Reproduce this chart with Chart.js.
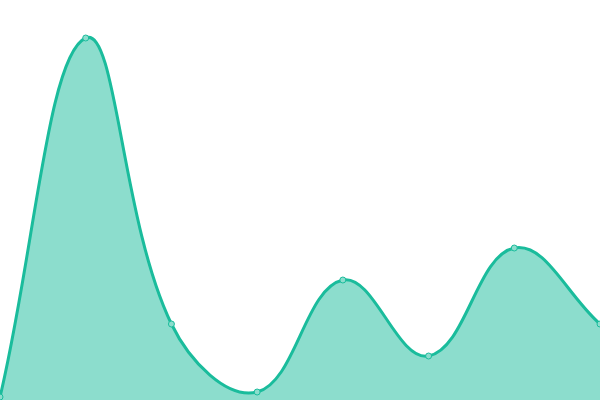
<!DOCTYPE html>
<html lang="en">
<head>
  <meta charset="UTF-8" />
  <title>Area chart</title>
  <script src="https://cdn.jsdelivr.net/npm/chart.js"></script>
  <style>
    * { margin: 0; padding: 0; box-sizing: border-box; }
    body { background: #fff; width: 600px; height: 400px; overflow: hidden; }
    .wrap { width: 600px; height: 400px; }
  </style>
</head>
<body>
  <div class="wrap"><canvas id="chart"></canvas></div>
  <script>
    // values (0 = bottom, 400 = top)
    const labels = ['1', '2', '3', '4', '5', '6', '7', '8'];
    const values = [3, 362, 76, 8, 120, 44, 152, 76];

    new Chart(document.getElementById('chart'), {
      type: 'line',
      data: {
        labels: labels,
        datasets: [{
          data: values,
          borderColor: '#1abc9c',
          backgroundColor: 'rgba(26, 188, 156, 0.5)',
          borderWidth: 3,
          fill: true,
          tension: 0.4,
          pointRadius: 3,
          pointBorderWidth: 1,
          pointBorderColor: '#1abc9c',
          pointBackgroundColor: '#8cddcd'
        }]
      },
      options: {
        responsive: true,
        maintainAspectRatio: false,
        animation: false,
        layout: { padding: 0, autoPadding: false },
        plugins: { legend: { display: false }, tooltip: { enabled: false } },
        scales: {
          x: { display: false },
          y: { display: false, min: 0, max: 400 }
        }
      }
    });
  </script>
</body>
</html>
